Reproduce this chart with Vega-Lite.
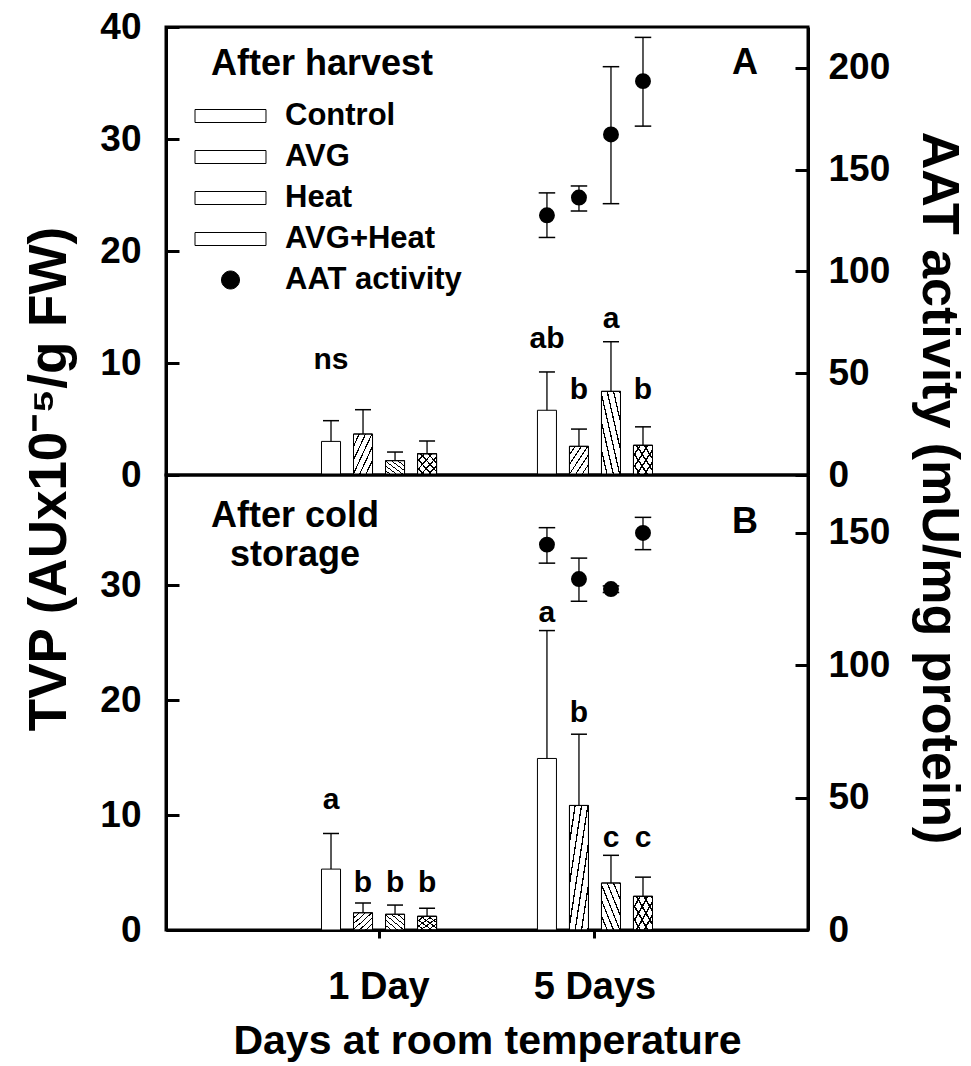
{
"$schema": "https://vega.github.io/schema/vega-lite/v6.json",
"background": "white",
"padding": {"left": 22, "top": 6, "right": 6, "bottom": 2},
"datasets": {
"tvp": [
{"panel":"A","day":"1 Day","treatment":"Control","tvp":3.0,"tvp_hi":4.85,"sig":"ns","sig_y":10.3},
{"panel":"A","day":"1 Day","treatment":"AVG","tvp":3.66,"tvp_hi":5.83,"sig":null,"sig_y":null},
{"panel":"A","day":"1 Day","treatment":"Heat","tvp":1.28,"tvp_hi":2.05,"sig":null,"sig_y":null},
{"panel":"A","day":"1 Day","treatment":"AVG+Heat","tvp":1.9,"tvp_hi":3.04,"sig":null,"sig_y":null},
{"panel":"A","day":"5 Days","treatment":"Control","tvp":5.78,"tvp_hi":9.2,"sig":"ab","sig_y":12.1},
{"panel":"A","day":"5 Days","treatment":"AVG","tvp":2.56,"tvp_hi":4.1,"sig":"b","sig_y":7.6},
{"panel":"A","day":"5 Days","treatment":"Heat","tvp":7.47,"tvp_hi":11.9,"sig":"a","sig_y":13.9},
{"panel":"A","day":"5 Days","treatment":"AVG+Heat","tvp":2.65,"tvp_hi":4.3,"sig":"b","sig_y":7.6},
{"panel":"B","day":"1 Day","treatment":"Control","tvp":5.3,"tvp_hi":8.4,"sig":"a","sig_y":11.3},
{"panel":"B","day":"1 Day","treatment":"AVG","tvp":1.5,"tvp_hi":2.35,"sig":"b","sig_y":4.1},
{"panel":"B","day":"1 Day","treatment":"Heat","tvp":1.37,"tvp_hi":2.17,"sig":"b","sig_y":4.1},
{"panel":"B","day":"1 Day","treatment":"AVG+Heat","tvp":1.19,"tvp_hi":1.89,"sig":"b","sig_y":4.1},
{"panel":"B","day":"5 Days","treatment":"Control","tvp":14.93,"tvp_hi":26.06,"sig":"a","sig_y":27.6},
{"panel":"B","day":"5 Days","treatment":"AVG","tvp":10.84,"tvp_hi":17.04,"sig":"b","sig_y":18.9},
{"panel":"B","day":"5 Days","treatment":"Heat","tvp":4.09,"tvp_hi":6.5,"sig":"c","sig_y":8.0},
{"panel":"B","day":"5 Days","treatment":"AVG+Heat","tvp":2.93,"tvp_hi":4.6,"sig":"c","sig_y":8.0}
],
"aat": [
{"panel":"A","day":"5 Days","treatment":"Control","series":"AAT activity","aat":127.6,"aat_lo":116.7,"aat_hi":138.6},
{"panel":"A","day":"5 Days","treatment":"AVG","series":"AAT activity","aat":136.3,"aat_lo":129.7,"aat_hi":142.0},
{"panel":"A","day":"5 Days","treatment":"Heat","series":"AAT activity","aat":167.3,"aat_lo":133.3,"aat_hi":200.6},
{"panel":"A","day":"5 Days","treatment":"AVG+Heat","series":"AAT activity","aat":193.5,"aat_lo":171.4,"aat_hi":215.0},
{"panel":"B","day":"5 Days","treatment":"Control","series":"AAT activity","aat":145.6,"aat_lo":138.6,"aat_hi":152.0},
{"panel":"B","day":"5 Days","treatment":"AVG","series":"AAT activity","aat":132.6,"aat_lo":124.2,"aat_hi":140.5},
{"panel":"B","day":"5 Days","treatment":"Heat","series":"AAT activity","aat":128.8,"aat_lo":127.5,"aat_hi":130.0},
{"panel":"B","day":"5 Days","treatment":"AVG+Heat","series":"AAT activity","aat":150.0,"aat_lo":143.7,"aat_hi":155.9}
]
},
"vconcat": [
{
"width": 642, "height": 448,
"title": {"text": "A", "anchor": "end", "frame": "group", "fontSize": 36, "offset": -74, "dx": -50},
"encoding": {
"x": {"field": "day", "type": "nominal", "scale": {"domain": ["1 Day", "5 Days"], "paddingInner": 0.407, "paddingOuter": 0.69}, "axis": null},
"xOffset": {"field": "treatment", "type": "nominal", "scale": {"domain": ["Control", "AVG", "Heat", "AVG+Heat"], "paddingInner": 0.406, "paddingOuter": 0.203}}
},
"layer": [
{
"data": {"name": "tvp"},
"transform": [{"filter": "datum.panel === 'A'"}],
"layer": [
{"mark": {"type": "bar", "stroke": "black", "strokeWidth": 1},
 "encoding": {
  "y": {"field": "tvp", "type": "quantitative", "scale": {"domain": [0, 40], "nice": false},
        "axis": {"orient": "left", "values": [0, 10, 20, 30, 40], "title": "TVP (AUx10⁻⁵/g FW)", "titleFontSize": 53, "titleX": -100.5, "titleY": 451.5, "titleAngle": -90, "titleAlign": "center", "titleBaseline": "alphabetic", "tickSize": -13, "labelPadding": 38, "labelFontSize": 37}},
  "fill": {"field": "treatment", "type": "nominal",
        "scale": {"domain": ["Control", "AVG", "Heat", "AVG+Heat", "AAT activity"], "range": ["white", "white", "white", "white", "black"]},
        "legend": {"title": "After harvest", "orient": "none", "legendX": 45, "legendY": 20, "titleFontSize": 36, "titlePadding": 17.5, "labelFontSize": 31, "rowPadding": 9, "symbolSize": 169, "symbolOffset": 4, "labelOffset": 39, "padding": 0, "labelLimit": 0, "titleLimit": 0, "symbolStrokeColor": "black", "symbolStrokeWidth": 1,
          "encode": {"symbols": {"update": {
            "shape": {"signal": "datum.value === 'AAT activity' ? 'M0,-1.385A1.385,1.385,0,1,1,0,1.385A1.385,1.385,0,1,1,0,-1.385Z' : 'M-5.46,-1H5.46V1H-5.46Z'"},
            "fill": {"signal": "datum.value === 'AVG' ? {gradient:'linear',x1:0,y1:0,x2:1.145,y2:0.2095,stops:[{offset:0,color:'white'},{offset:0.082,color:'white'},{offset:0.082,color:'black'},{offset:0.1,color:'black'},{offset:0.1,color:'white'},{offset:0.182,color:'white'},{offset:0.182,color:'black'},{offset:0.2,color:'black'},{offset:0.2,color:'white'},{offset:0.282,color:'white'},{offset:0.282,color:'black'},{offset:0.3,color:'black'},{offset:0.3,color:'white'},{offset:0.382,color:'white'},{offset:0.382,color:'black'},{offset:0.4,color:'black'},{offset:0.4,color:'white'},{offset:0.482,color:'white'},{offset:0.482,color:'black'},{offset:0.5,color:'black'},{offset:0.5,color:'white'},{offset:0.582,color:'white'},{offset:0.582,color:'black'},{offset:0.6,color:'black'},{offset:0.6,color:'white'},{offset:0.682,color:'white'},{offset:0.682,color:'black'},{offset:0.7,color:'black'},{offset:0.7,color:'white'},{offset:0.782,color:'white'},{offset:0.782,color:'black'},{offset:0.8,color:'black'},{offset:0.8,color:'white'},{offset:0.882,color:'white'},{offset:0.882,color:'black'},{offset:0.9,color:'black'},{offset:0.9,color:'white'},{offset:0.982,color:'white'},{offset:0.982,color:'black'},{offset:1,color:'black'}]} : datum.value === 'Heat' ? {gradient:'linear',x1:0,y1:1,x2:1.145,y2:0.7905,stops:[{offset:0,color:'white'},{offset:0.082,color:'white'},{offset:0.082,color:'black'},{offset:0.1,color:'black'},{offset:0.1,color:'white'},{offset:0.182,color:'white'},{offset:0.182,color:'black'},{offset:0.2,color:'black'},{offset:0.2,color:'white'},{offset:0.282,color:'white'},{offset:0.282,color:'black'},{offset:0.3,color:'black'},{offset:0.3,color:'white'},{offset:0.382,color:'white'},{offset:0.382,color:'black'},{offset:0.4,color:'black'},{offset:0.4,color:'white'},{offset:0.482,color:'white'},{offset:0.482,color:'black'},{offset:0.5,color:'black'},{offset:0.5,color:'white'},{offset:0.582,color:'white'},{offset:0.582,color:'black'},{offset:0.6,color:'black'},{offset:0.6,color:'white'},{offset:0.682,color:'white'},{offset:0.682,color:'black'},{offset:0.7,color:'black'},{offset:0.7,color:'white'},{offset:0.782,color:'white'},{offset:0.782,color:'black'},{offset:0.8,color:'black'},{offset:0.8,color:'white'},{offset:0.882,color:'white'},{offset:0.882,color:'black'},{offset:0.9,color:'black'},{offset:0.9,color:'white'},{offset:0.982,color:'white'},{offset:0.982,color:'black'},{offset:1,color:'black'}]} : datum.value === 'AVG+Heat' ? {gradient:'linear',x1:0,y1:0,x2:1.145,y2:0.2095,stops:[{offset:0,color:'white'},{offset:0.113,color:'white'},{offset:0.113,color:'black'},{offset:0.143,color:'black'},{offset:0.143,color:'white'},{offset:0.256,color:'white'},{offset:0.256,color:'black'},{offset:0.286,color:'black'},{offset:0.286,color:'white'},{offset:0.399,color:'white'},{offset:0.399,color:'black'},{offset:0.429,color:'black'},{offset:0.429,color:'white'},{offset:0.542,color:'white'},{offset:0.542,color:'black'},{offset:0.571,color:'black'},{offset:0.571,color:'white'},{offset:0.684,color:'white'},{offset:0.684,color:'black'},{offset:0.714,color:'black'},{offset:0.714,color:'white'},{offset:0.827,color:'white'},{offset:0.827,color:'black'},{offset:0.857,color:'black'},{offset:0.857,color:'white'},{offset:0.97,color:'white'},{offset:0.97,color:'black'},{offset:1,color:'black'}]} : datum.value === 'AAT activity' ? 'black' : 'white'"},
            "stroke": {"value": "black"}, "strokeWidth": {"value": 1}, "opacity": {"value": 1}}}}}}
 }},
{"transform": [{"filter": "datum.treatment === 'AVG'"}],
 "mark": {"type": "bar", "stroke": "black", "strokeWidth": 1,
  "fill": {"gradient":"linear","x1":0,"y1":0,"x2":1,"y2":1,"stops":[{"offset":0,"color":"rgba(0,0,0,0)"},{"offset":0.133,"color":"rgba(0,0,0,0)"},{"offset":0.133,"color":"black"},{"offset":0.167,"color":"black"},{"offset":0.167,"color":"rgba(0,0,0,0)"},{"offset":0.3,"color":"rgba(0,0,0,0)"},{"offset":0.3,"color":"black"},{"offset":0.333,"color":"black"},{"offset":0.333,"color":"rgba(0,0,0,0)"},{"offset":0.467,"color":"rgba(0,0,0,0)"},{"offset":0.467,"color":"black"},{"offset":0.5,"color":"black"},{"offset":0.5,"color":"rgba(0,0,0,0)"},{"offset":0.633,"color":"rgba(0,0,0,0)"},{"offset":0.633,"color":"black"},{"offset":0.667,"color":"black"},{"offset":0.667,"color":"rgba(0,0,0,0)"},{"offset":0.8,"color":"rgba(0,0,0,0)"},{"offset":0.8,"color":"black"},{"offset":0.833,"color":"black"},{"offset":0.833,"color":"rgba(0,0,0,0)"},{"offset":0.967,"color":"rgba(0,0,0,0)"},{"offset":0.967,"color":"black"},{"offset":1,"color":"black"}]}},
 "encoding": {"y": {"field": "tvp", "type": "quantitative", "scale": {"domain": [0, 40], "nice": false}}}},
{"transform": [{"filter": "datum.treatment === 'Heat'"}],
 "mark": {"type": "bar", "stroke": "black", "strokeWidth": 1,
  "fill": {"gradient":"linear","x1":0,"y1":1,"x2":1,"y2":0,"stops":[{"offset":0,"color":"rgba(0,0,0,0)"},{"offset":0.133,"color":"rgba(0,0,0,0)"},{"offset":0.133,"color":"black"},{"offset":0.167,"color":"black"},{"offset":0.167,"color":"rgba(0,0,0,0)"},{"offset":0.3,"color":"rgba(0,0,0,0)"},{"offset":0.3,"color":"black"},{"offset":0.333,"color":"black"},{"offset":0.333,"color":"rgba(0,0,0,0)"},{"offset":0.467,"color":"rgba(0,0,0,0)"},{"offset":0.467,"color":"black"},{"offset":0.5,"color":"black"},{"offset":0.5,"color":"rgba(0,0,0,0)"},{"offset":0.633,"color":"rgba(0,0,0,0)"},{"offset":0.633,"color":"black"},{"offset":0.667,"color":"black"},{"offset":0.667,"color":"rgba(0,0,0,0)"},{"offset":0.8,"color":"rgba(0,0,0,0)"},{"offset":0.8,"color":"black"},{"offset":0.833,"color":"black"},{"offset":0.833,"color":"rgba(0,0,0,0)"},{"offset":0.967,"color":"rgba(0,0,0,0)"},{"offset":0.967,"color":"black"},{"offset":1,"color":"black"}]}},
 "encoding": {"y": {"field": "tvp", "type": "quantitative", "scale": {"domain": [0, 40], "nice": false}}}},
{"transform": [{"filter": "datum.treatment === 'AVG+Heat'"}],
 "mark": {"type": "bar", "stroke": "black", "strokeWidth": 1,
  "fill": {"gradient":"linear","x1":0,"y1":0,"x2":1,"y2":1,"stops":[{"offset":0,"color":"rgba(0,0,0,0)"},{"offset":0.156,"color":"rgba(0,0,0,0)"},{"offset":0.156,"color":"black"},{"offset":0.2,"color":"black"},{"offset":0.2,"color":"rgba(0,0,0,0)"},{"offset":0.356,"color":"rgba(0,0,0,0)"},{"offset":0.356,"color":"black"},{"offset":0.4,"color":"black"},{"offset":0.4,"color":"rgba(0,0,0,0)"},{"offset":0.556,"color":"rgba(0,0,0,0)"},{"offset":0.556,"color":"black"},{"offset":0.6,"color":"black"},{"offset":0.6,"color":"rgba(0,0,0,0)"},{"offset":0.756,"color":"rgba(0,0,0,0)"},{"offset":0.756,"color":"black"},{"offset":0.8,"color":"black"},{"offset":0.8,"color":"rgba(0,0,0,0)"},{"offset":0.956,"color":"rgba(0,0,0,0)"},{"offset":0.956,"color":"black"},{"offset":1,"color":"black"}]}},
 "encoding": {"y": {"field": "tvp", "type": "quantitative", "scale": {"domain": [0, 40], "nice": false}}}},
{"transform": [{"filter": "datum.treatment === 'AVG+Heat'"}],
 "mark": {"type": "bar", "stroke": "black", "strokeWidth": 1,
  "fill": {"gradient":"linear","x1":0,"y1":1,"x2":1,"y2":0,"stops":[{"offset":0,"color":"rgba(0,0,0,0)"},{"offset":0.156,"color":"rgba(0,0,0,0)"},{"offset":0.156,"color":"black"},{"offset":0.2,"color":"black"},{"offset":0.2,"color":"rgba(0,0,0,0)"},{"offset":0.356,"color":"rgba(0,0,0,0)"},{"offset":0.356,"color":"black"},{"offset":0.4,"color":"black"},{"offset":0.4,"color":"rgba(0,0,0,0)"},{"offset":0.556,"color":"rgba(0,0,0,0)"},{"offset":0.556,"color":"black"},{"offset":0.6,"color":"black"},{"offset":0.6,"color":"rgba(0,0,0,0)"},{"offset":0.756,"color":"rgba(0,0,0,0)"},{"offset":0.756,"color":"black"},{"offset":0.8,"color":"black"},{"offset":0.8,"color":"rgba(0,0,0,0)"},{"offset":0.956,"color":"rgba(0,0,0,0)"},{"offset":0.956,"color":"black"},{"offset":1,"color":"black"}]}},
 "encoding": {"y": {"field": "tvp", "type": "quantitative", "scale": {"domain": [0, 40], "nice": false}}}},
{"mark": {"type": "rule", "color": "black", "strokeWidth": 1.3},
 "encoding": {"y": {"field": "tvp", "type": "quantitative", "scale": {"domain": [0, 40], "nice": false}}, "y2": {"field": "tvp_hi"}}},
{"mark": {"type": "tick", "orient": "horizontal", "color": "black", "size": 16, "thickness": 1.5, "opacity": 1},
 "encoding": {"y": {"field": "tvp_hi", "type": "quantitative", "scale": {"domain": [0, 40], "nice": false}}}},
{"transform": [{"filter": "datum.sig != null"}],
 "mark": {"type": "text", "font": "Liberation Sans", "fontWeight": "bold", "fontSize": 30, "color": "black", "baseline": "middle", "align": "center"},
 "encoding": {"y": {"field": "sig_y", "type": "quantitative", "scale": {"domain": [0, 40], "nice": false}}, "text": {"field": "sig"}}}
]
},
{
"data": {"name": "aat"},
"transform": [{"filter": "datum.panel === 'A'"}],
"layer": [
{"mark": {"type": "rule", "color": "black", "strokeWidth": 1.3},
 "encoding": {"y": {"field": "aat_lo", "type": "quantitative", "scale": {"domain": [0, 220.1], "nice": false},
   "axis": {"orient": "right", "values": [0, 50, 100, 150, 200], "title": "AAT activity (mU/mg protein)", "titleFontSize": 52, "titleX": 114, "titleY": 460.5, "titleAngle": 90, "titleAlign": "center", "titleBaseline": "alphabetic", "tickSize": -13, "labelPadding": 33, "labelFontSize": 37}},
  "y2": {"field": "aat_hi"}}},
{"mark": {"type": "tick", "orient": "horizontal", "color": "black", "size": 16.5, "thickness": 1.5, "opacity": 1},
 "encoding": {"y": {"field": "aat_lo", "type": "quantitative", "scale": {"domain": [0, 220.1], "nice": false}}}},
{"mark": {"type": "tick", "orient": "horizontal", "color": "black", "size": 16.5, "thickness": 1.5, "opacity": 1},
 "encoding": {"y": {"field": "aat_hi", "type": "quantitative", "scale": {"domain": [0, 220.1], "nice": false}}}},
{"mark": {"type": "point", "filled": true, "opacity": 1, "size": 254, "shape": "circle", "strokeWidth": 0},
 "encoding": {"y": {"field": "aat", "type": "quantitative", "scale": {"domain": [0, 220.1], "nice": false}},
  "fill": {"field": "series", "type": "nominal"}}}
]
}
],
"resolve": {"scale": {"y": "independent"}}
},
{
"width": 642, "height": 455,
"title": {"text": "B", "anchor": "end", "frame": "group", "fontSize": 36, "offset": -66, "dx": -50},
"encoding": {
"x": {"field": "day", "type": "nominal", "scale": {"domain": ["1 Day", "5 Days"], "paddingInner": 0.407, "paddingOuter": 0.69},
  "axis": {"orient": "bottom", "title": "Days at room temperature", "titleFontSize": 41, "titleY": 91, "titleBaseline": "top", "labelFontSize": 38, "labelPadding": 30, "tickSize": 8, "labelAngle": 0}},
"xOffset": {"field": "treatment", "type": "nominal", "scale": {"domain": ["Control", "AVG", "Heat", "AVG+Heat"], "paddingInner": 0.406, "paddingOuter": 0.203}}
},
"layer": [
{
"data": {"name": "tvp"},
"transform": [{"filter": "datum.panel === 'B'"}],
"layer": [
{"mark": {"type": "bar", "stroke": "black", "strokeWidth": 1, "fill": "white"},
 "encoding": {
  "y": {"field": "tvp", "type": "quantitative", "scale": {"domain": [0, 39.6], "nice": false},
        "axis": {"orient": "left", "values": [0, 10, 20, 30], "title": ["After cold", "storage"], "titleFontSize": 36, "titleLineHeight": 39, "titleX": 128.5, "titleY": 51, "titleAngle": 0, "titleAlign": "center", "titleBaseline": "alphabetic", "tickSize": -13, "labelPadding": 38, "labelFontSize": 37}}
 }},
{"transform": [{"filter": "datum.treatment === 'AVG'"}],
 "mark": {"type": "bar", "stroke": "black", "strokeWidth": 1,
  "fill": {"gradient":"linear","x1":0,"y1":0,"x2":1,"y2":1,"stops":[{"offset":0,"color":"rgba(0,0,0,0)"},{"offset":0.133,"color":"rgba(0,0,0,0)"},{"offset":0.133,"color":"black"},{"offset":0.167,"color":"black"},{"offset":0.167,"color":"rgba(0,0,0,0)"},{"offset":0.3,"color":"rgba(0,0,0,0)"},{"offset":0.3,"color":"black"},{"offset":0.333,"color":"black"},{"offset":0.333,"color":"rgba(0,0,0,0)"},{"offset":0.467,"color":"rgba(0,0,0,0)"},{"offset":0.467,"color":"black"},{"offset":0.5,"color":"black"},{"offset":0.5,"color":"rgba(0,0,0,0)"},{"offset":0.633,"color":"rgba(0,0,0,0)"},{"offset":0.633,"color":"black"},{"offset":0.667,"color":"black"},{"offset":0.667,"color":"rgba(0,0,0,0)"},{"offset":0.8,"color":"rgba(0,0,0,0)"},{"offset":0.8,"color":"black"},{"offset":0.833,"color":"black"},{"offset":0.833,"color":"rgba(0,0,0,0)"},{"offset":0.967,"color":"rgba(0,0,0,0)"},{"offset":0.967,"color":"black"},{"offset":1,"color":"black"}]}},
 "encoding": {"y": {"field": "tvp", "type": "quantitative", "scale": {"domain": [0, 39.6], "nice": false}}}},
{"transform": [{"filter": "datum.treatment === 'Heat'"}],
 "mark": {"type": "bar", "stroke": "black", "strokeWidth": 1,
  "fill": {"gradient":"linear","x1":0,"y1":1,"x2":1,"y2":0,"stops":[{"offset":0,"color":"rgba(0,0,0,0)"},{"offset":0.133,"color":"rgba(0,0,0,0)"},{"offset":0.133,"color":"black"},{"offset":0.167,"color":"black"},{"offset":0.167,"color":"rgba(0,0,0,0)"},{"offset":0.3,"color":"rgba(0,0,0,0)"},{"offset":0.3,"color":"black"},{"offset":0.333,"color":"black"},{"offset":0.333,"color":"rgba(0,0,0,0)"},{"offset":0.467,"color":"rgba(0,0,0,0)"},{"offset":0.467,"color":"black"},{"offset":0.5,"color":"black"},{"offset":0.5,"color":"rgba(0,0,0,0)"},{"offset":0.633,"color":"rgba(0,0,0,0)"},{"offset":0.633,"color":"black"},{"offset":0.667,"color":"black"},{"offset":0.667,"color":"rgba(0,0,0,0)"},{"offset":0.8,"color":"rgba(0,0,0,0)"},{"offset":0.8,"color":"black"},{"offset":0.833,"color":"black"},{"offset":0.833,"color":"rgba(0,0,0,0)"},{"offset":0.967,"color":"rgba(0,0,0,0)"},{"offset":0.967,"color":"black"},{"offset":1,"color":"black"}]}},
 "encoding": {"y": {"field": "tvp", "type": "quantitative", "scale": {"domain": [0, 39.6], "nice": false}}}},
{"transform": [{"filter": "datum.treatment === 'AVG+Heat'"}],
 "mark": {"type": "bar", "stroke": "black", "strokeWidth": 1,
  "fill": {"gradient":"linear","x1":0,"y1":0,"x2":1,"y2":1,"stops":[{"offset":0,"color":"rgba(0,0,0,0)"},{"offset":0.156,"color":"rgba(0,0,0,0)"},{"offset":0.156,"color":"black"},{"offset":0.2,"color":"black"},{"offset":0.2,"color":"rgba(0,0,0,0)"},{"offset":0.356,"color":"rgba(0,0,0,0)"},{"offset":0.356,"color":"black"},{"offset":0.4,"color":"black"},{"offset":0.4,"color":"rgba(0,0,0,0)"},{"offset":0.556,"color":"rgba(0,0,0,0)"},{"offset":0.556,"color":"black"},{"offset":0.6,"color":"black"},{"offset":0.6,"color":"rgba(0,0,0,0)"},{"offset":0.756,"color":"rgba(0,0,0,0)"},{"offset":0.756,"color":"black"},{"offset":0.8,"color":"black"},{"offset":0.8,"color":"rgba(0,0,0,0)"},{"offset":0.956,"color":"rgba(0,0,0,0)"},{"offset":0.956,"color":"black"},{"offset":1,"color":"black"}]}},
 "encoding": {"y": {"field": "tvp", "type": "quantitative", "scale": {"domain": [0, 39.6], "nice": false}}}},
{"transform": [{"filter": "datum.treatment === 'AVG+Heat'"}],
 "mark": {"type": "bar", "stroke": "black", "strokeWidth": 1,
  "fill": {"gradient":"linear","x1":0,"y1":1,"x2":1,"y2":0,"stops":[{"offset":0,"color":"rgba(0,0,0,0)"},{"offset":0.156,"color":"rgba(0,0,0,0)"},{"offset":0.156,"color":"black"},{"offset":0.2,"color":"black"},{"offset":0.2,"color":"rgba(0,0,0,0)"},{"offset":0.356,"color":"rgba(0,0,0,0)"},{"offset":0.356,"color":"black"},{"offset":0.4,"color":"black"},{"offset":0.4,"color":"rgba(0,0,0,0)"},{"offset":0.556,"color":"rgba(0,0,0,0)"},{"offset":0.556,"color":"black"},{"offset":0.6,"color":"black"},{"offset":0.6,"color":"rgba(0,0,0,0)"},{"offset":0.756,"color":"rgba(0,0,0,0)"},{"offset":0.756,"color":"black"},{"offset":0.8,"color":"black"},{"offset":0.8,"color":"rgba(0,0,0,0)"},{"offset":0.956,"color":"rgba(0,0,0,0)"},{"offset":0.956,"color":"black"},{"offset":1,"color":"black"}]}},
 "encoding": {"y": {"field": "tvp", "type": "quantitative", "scale": {"domain": [0, 39.6], "nice": false}}}},
{"mark": {"type": "rule", "color": "black", "strokeWidth": 1.3},
 "encoding": {"y": {"field": "tvp", "type": "quantitative", "scale": {"domain": [0, 39.6], "nice": false}}, "y2": {"field": "tvp_hi"}}},
{"mark": {"type": "tick", "orient": "horizontal", "color": "black", "size": 16, "thickness": 1.5, "opacity": 1},
 "encoding": {"y": {"field": "tvp_hi", "type": "quantitative", "scale": {"domain": [0, 39.6], "nice": false}}}},
{"transform": [{"filter": "datum.sig != null"}],
 "mark": {"type": "text", "font": "Liberation Sans", "fontWeight": "bold", "fontSize": 30, "color": "black", "baseline": "middle", "align": "center"},
 "encoding": {"y": {"field": "sig_y", "type": "quantitative", "scale": {"domain": [0, 39.6], "nice": false}}, "text": {"field": "sig"}}}
]
},
{
"data": {"name": "aat"},
"transform": [{"filter": "datum.panel === 'B'"}],
"layer": [
{"mark": {"type": "rule", "color": "black", "strokeWidth": 1.3},
 "encoding": {"y": {"field": "aat_lo", "type": "quantitative", "scale": {"domain": [0, 171.9], "nice": false},
   "axis": {"orient": "right", "values": [0, 50, 100, 150], "title": null, "tickSize": -13, "labelPadding": 33, "labelFontSize": 37}},
  "y2": {"field": "aat_hi"}}},
{"mark": {"type": "tick", "orient": "horizontal", "color": "black", "size": 16.5, "thickness": 1.5, "opacity": 1},
 "encoding": {"y": {"field": "aat_lo", "type": "quantitative", "scale": {"domain": [0, 171.9], "nice": false}}}},
{"mark": {"type": "tick", "orient": "horizontal", "color": "black", "size": 16.5, "thickness": 1.5, "opacity": 1},
 "encoding": {"y": {"field": "aat_hi", "type": "quantitative", "scale": {"domain": [0, 171.9], "nice": false}}}},
{"mark": {"type": "point", "filled": true, "opacity": 1, "size": 254, "shape": "circle", "strokeWidth": 0, "fill": "black"},
 "encoding": {"y": {"field": "aat", "type": "quantitative", "scale": {"domain": [0, 171.9], "nice": false}}}}
]
}
],
"resolve": {"scale": {"y": "independent"}}
}
],
"spacing": 0,
"bounds": "flush",
"resolve": {"scale": {"x": "independent", "xOffset": "independent", "y": "independent", "fill": "independent"}, "legend": {"fill": "independent"}, "axis": {"x": "independent", "y": "independent"}},
"config": {
"font": "Liberation Sans",
"view": {"stroke": "black", "strokeWidth": 3},
"axis": {"labelFont": "Liberation Sans", "labelFontWeight": "bold", "labelColor": "black", "titleFont": "Liberation Sans", "titleFontWeight": "bold", "titleColor": "black", "domainColor": "black", "domainWidth": 3, "tickColor": "black", "tickWidth": 3, "grid": false},
"legend": {"labelFont": "Liberation Sans", "labelFontWeight": "bold", "labelColor": "black", "titleFont": "Liberation Sans", "titleFontWeight": "bold", "titleColor": "black"},
"title": {"font": "Liberation Sans", "fontWeight": "bold", "color": "black"}
}
}
